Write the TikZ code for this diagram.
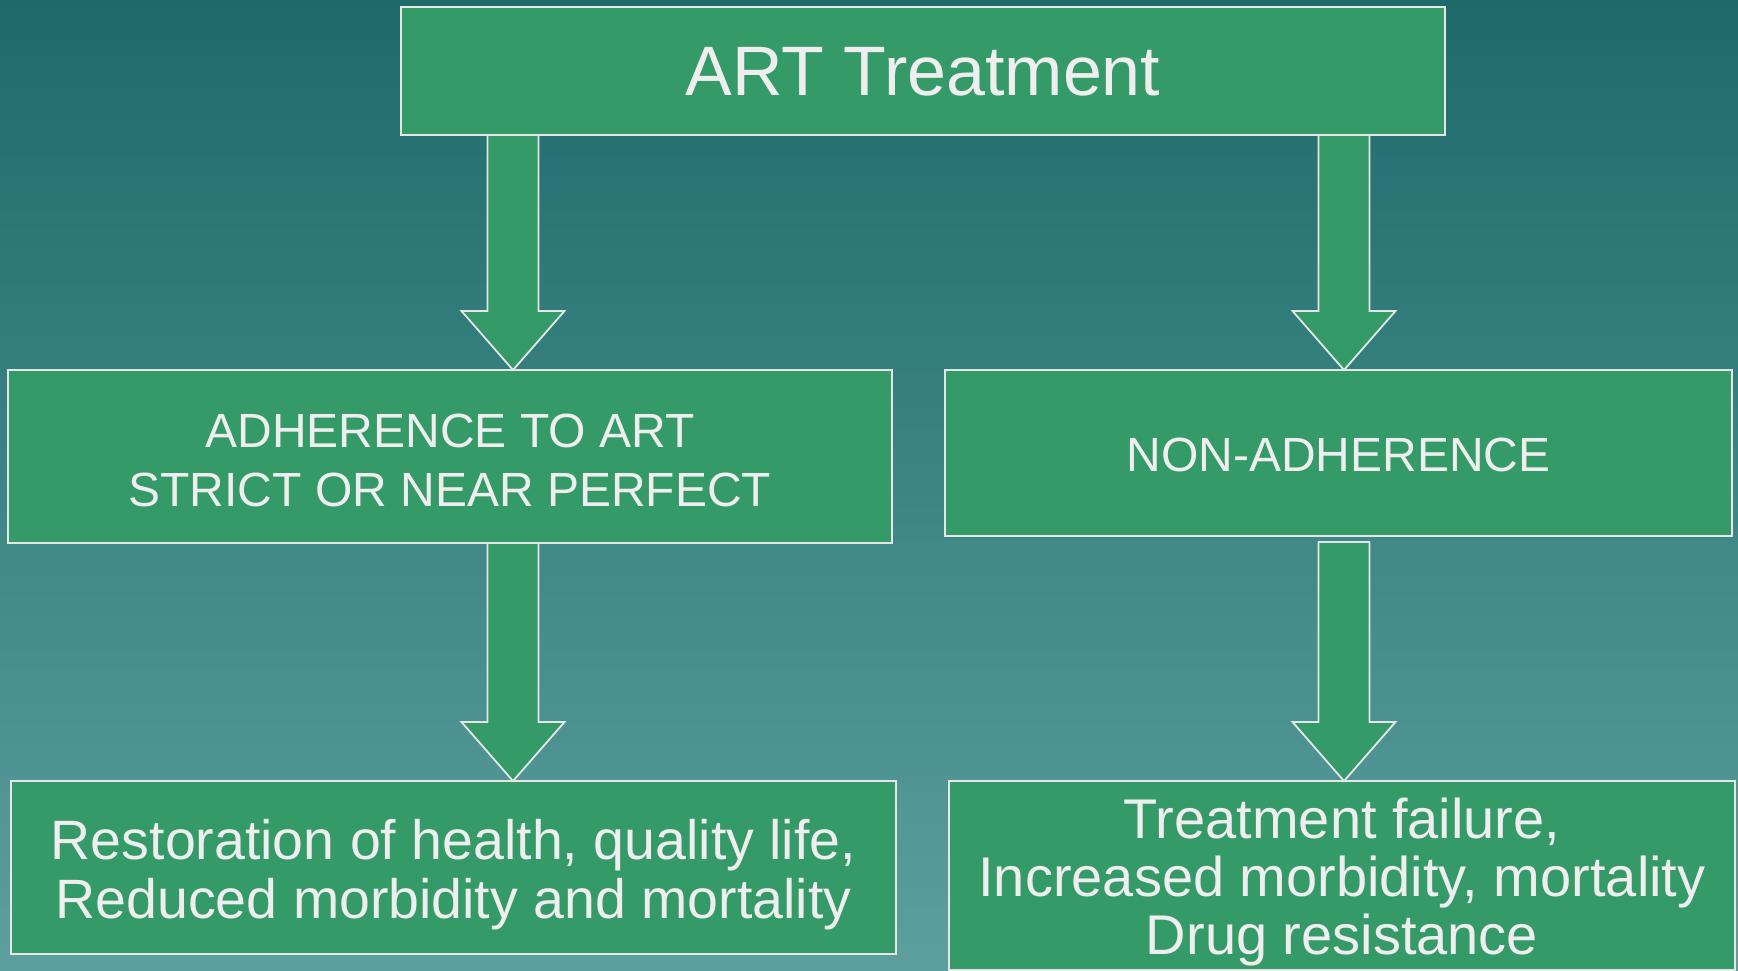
\documentclass[tikz,border=0pt]{standalone}
\usepackage{fontspec}
\setmainfont{Liberation Sans}
\usetikzlibrary{calc}
\definecolor{bgtop}{HTML}{1E6A6B}
\definecolor{bgbot}{HTML}{5C9F9E}
\definecolor{boxgreen}{HTML}{349A68}
\definecolor{edgecol}{HTML}{E6E6E6}
\definecolor{txtcol}{HTML}{EEEEEE}
\newcommand\blockarrow[2]{%
  \path[barrow] let \p1=(#1), \p2=(#2) in
    (\x1-25.5pt,\y1) -- (\x1-25.5pt,\y2+59pt) -- (\x1-51.5pt,\y2+59pt) --
    (\x2,\y2) -- (\x1+51.5pt,\y2+59pt) -- (\x1+25.5pt,\y2+59pt) --
    (\x1+25.5pt,\y1) -- cycle;}
\begin{document}
\begin{tikzpicture}[x=1pt,y=-1pt,
  box/.style={draw=edgecol, line width=1.8pt, fill=boxgreen, rectangle,
    inner sep=0pt, outer sep=0pt},
  boxtext/.style={inner sep=0pt, outer sep=0pt, text=txtcol, align=center},
  barrow/.style={draw=edgecol, line width=1.8pt, fill=boxgreen, line join=miter}]
\useasboundingbox (0,0) rectangle (1738,971);
\shade[top color=bgtop, bottom color=bgbot] (0,0) rectangle (1738,971);

\node[box, minimum width=1044pt, minimum height=128pt] (top) at (923,71) {};
\node[box, minimum width=884pt, minimum height=173pt] (l2) at (450,456.5) {};
\node[box, minimum width=787pt, minimum height=166pt] (r2) at (1338.5,453) {};
\node[box, minimum width=885pt, minimum height=173pt] (l3) at (453.5,867.5) {};
\node[box, minimum width=786pt, minimum height=189pt] (r3) at (1342,875.5) {};

\node[boxtext, font=\fontsize{70}{84}\selectfont] (topt) at ($(top)+(0,1)$) {ART Treatment};
\node[boxtext, font=\fontsize{48}{59}\selectfont] (l2t) at ($(l2)+(0,3.5)$)
  {ADHERENCE TO ART\\STRICT OR NEAR PERFECT};
\node[boxtext, font=\fontsize{48}{59}\selectfont] (r2t) at ($(r2)+(0,2)$) {NON-ADHERENCE};
\node[boxtext, font=\fontsize{55.5}{59}\selectfont] (l3t) at ($(l3)+(0,7)$)
  {Restoration of health, quality life,\\Reduced morbidity and mortality};
\node[boxtext, font=\fontsize{56}{58}\selectfont] (r3t) at ($(r3)+(0,7)$)
  {Treatment failure,\\Increased morbidity, mortality\\Drug resistance};

\coordinate (ax1) at (513,0);
\coordinate (ax2) at (1344,0);
\coordinate (s1) at (top.south -| ax1);
\coordinate (t1) at (l2.north -| ax1);
\coordinate (s2) at (top.south -| ax2);
\coordinate (t2) at (r2.north -| ax2);
\coordinate (s3) at (l2.south -| ax1);
\coordinate (t3) at (l3.north -| ax1);
\coordinate (s4) at ($(r2.south -| ax2)+(0,6)$);
\coordinate (t4) at (r3.north -| ax2);

\blockarrow{s1}{t1}
\blockarrow{s2}{t2}
\blockarrow{s3}{t3}
\blockarrow{s4}{t4}
\end{tikzpicture}
\end{document}
